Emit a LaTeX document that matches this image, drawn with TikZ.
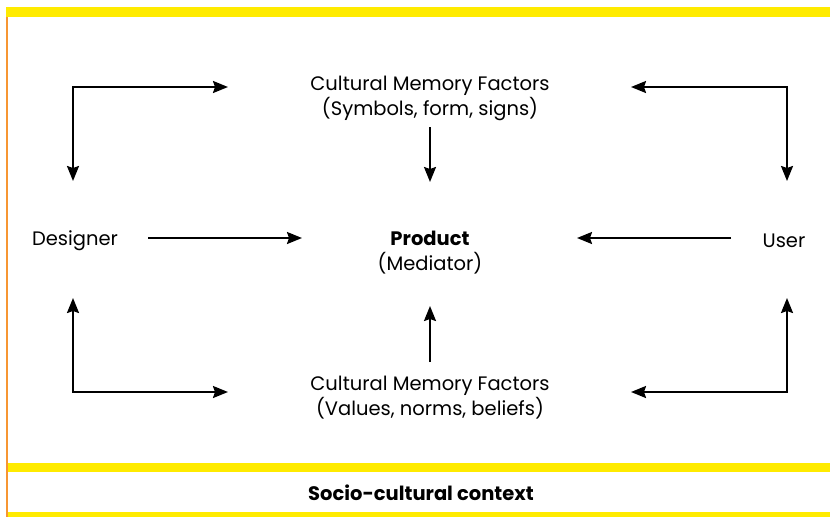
\documentclass[tikz,border=0pt]{standalone}
\usepackage{fontspec}
\setmainfont{Poppins}
\usetikzlibrary{arrows.meta}
\definecolor{bandyellow}{RGB}{255,235,0}
\definecolor{edgeorange}{RGB}{247,150,50}
\begin{document}
\begin{tikzpicture}[x=1pt,y=-1pt,
    lbl/.style={font=\fontsize{19.5}{25}\selectfont, align=center, inner sep=0pt},
    flow/.style={line width=2pt, -{Stealth[length=15pt,width=12pt,inset=2pt]}},
    bothflow/.style={line width=2pt, {Stealth[length=15pt,width=12pt,inset=2pt]}-{Stealth[length=15pt,width=12pt,inset=2pt]}}]
      \useasboundingbox (0,0) rectangle (830,517) ;
      % frame
      \fill[bandyellow] (6,7) rectangle (830,17) ;
      \fill[bandyellow] (6,463) rectangle (830,472) ;
      \fill[bandyellow] (6,512) rectangle (830,517) ;
      \draw[edgeorange, line width=1.6pt] (6.8,17) -- (6.8,517) ;
      \node[lbl, font=\fontsize{19.5}{25}\selectfont\bfseries] (ctx) at (421,493) {Socio-cultural context} ;
      % texts
      \node[lbl] (top) at (430,98) {Cultural Memory Factors\\(Symbols, form, signs)} ;
      \node[lbl] (bot) at (430,398) {Cultural Memory Factors\\(Values, norms, beliefs)} ;
      \node[lbl] (prod) at (430,253) {\textbf{Product}\\(Mediator)} ;
      \node[lbl] (des) at (75,241) {Designer} ;
      \node[lbl] (usr) at (784,241) {User} ;
      % arrow ends
      \coordinate (d1) at (148,238) ;
      \coordinate (u1) at (731,238) ;
      \coordinate (t1) at (430,127) ;
      \coordinate (b1) at (430,362) ;
      % corners
      \coordinate (tl) at (73,87) ;
      \coordinate (tr) at (787,87) ;
      \coordinate (bl) at (73,392) ;
      \coordinate (br) at (787,392) ;
      % arrows
      \draw[flow] (d1) -- (302,238) ;
      \draw[flow] (u1) -- (577,238) ;
      \draw[flow] (t1) -- (430,182) ;
      \draw[flow] (b1) -- (430,306) ;
      \draw[bothflow] (73,181) -- (tl) -- (228,87) ;
      \draw[bothflow] (787,181) -- (tr) -- (631,87) ;
      \draw[bothflow] (73,298) -- (bl) -- (228,392) ;
      \draw[bothflow] (787,298) -- (br) -- (631,392) ;
\end{tikzpicture}
\end{document}
